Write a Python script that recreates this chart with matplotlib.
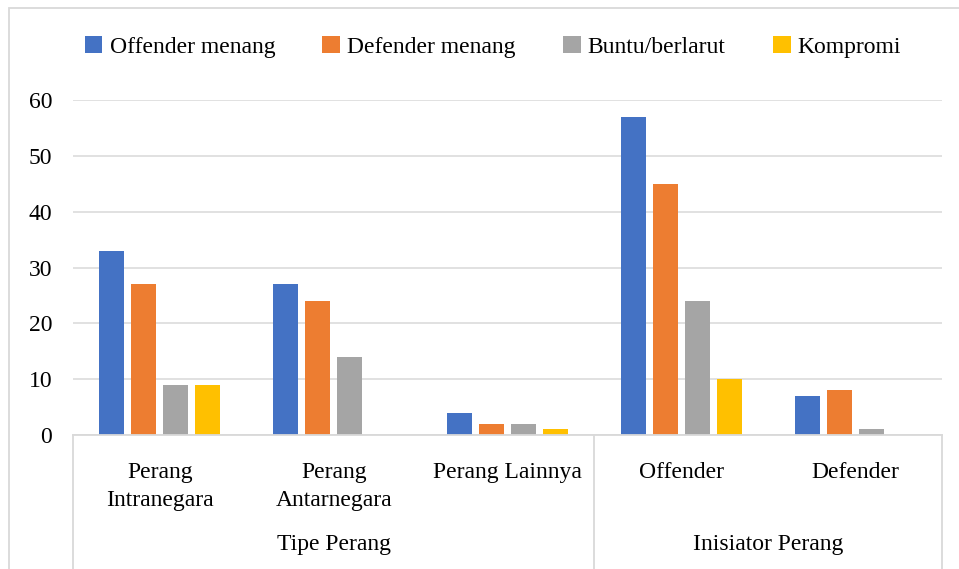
import matplotlib.pyplot as plt
import numpy as np
from matplotlib.patches import Rectangle

categories = ['Perang\nIntranegara', 'Perang\nAntarnegara', 'Perang Lainnya', 'Offender', 'Defender']
groups = ['Tipe Perang', 'Inisiator Perang']
group_spans = [(0, 2), (3, 4)]
series = ['Offender menang', 'Defender menang', 'Buntu/berlarut', 'Kompromi']
offender_menang = [33, 27, 4, 57, 7]
defender_menang = [27, 24, 2, 45, 8]
buntu = [9, 14, 2, 24, 1]
kompromi = [9, 0, 1, 10, 0]
colors = ['#4472C4', '#ED7D31', '#A5A5A5', '#FFC000']

plt.rcParams['font.family'] = ['Liberation Serif', 'DejaVu Serif']
grid_c = '#d9d9d9'
fs = 17

fig = plt.figure(figsize=(9.59, 5.69), dpi=100)
ax = fig.add_axes([73/959, 1-435/569, (942-73)/959, 335/569])

x = np.arange(len(categories))
w = 0.144
step = 0.184
values = [offender_menang, defender_menang, buntu, kompromi]
for i, (vals, c, lab) in enumerate(zip(values, colors, series)):
    ax.bar(x + (i-1.5)*step, vals, w, color=c, label=lab, zorder=3)

ax.set_xlim(-0.5, len(categories)-0.5)
ax.set_ylim(0, 60)
ax.set_yticks(range(0, 61, 10))
ax.yaxis.grid(True, color=grid_c, lw=1.1, zorder=0)
ax.set_xticks([])
ax.tick_params(axis='y', length=0, pad=15, labelsize=fs)
for s in ax.spines.values():
    s.set_visible(False)

# multi-level category axis
tr = ax.get_xaxis_transform()
ax.plot([-0.5, 4.5], [0, 0], color=grid_c, lw=1.3, transform=tr, clip_on=False, zorder=4)
for xv in [-0.5, 2.5, 4.5]:
    ax.plot([xv, xv], [0, -0.4], color=grid_c, lw=1.3, transform=tr, clip_on=False)
for xi, cat in zip(x, categories):
    ax.text(xi, -0.08, cat, transform=tr, ha='center', va='top', fontsize=fs,
            linespacing=1.45)
for g, (a, b) in zip(groups, group_spans):
    ax.text((a+b)/2, -0.328, g, transform=tr, ha='center', va='center', fontsize=fs)

fig.legend(loc='center', bbox_to_anchor=(0.514, 1-47/569), ncol=4, frameon=False,
           fontsize=fs, handlelength=0.75, handleheight=0.75, handletextpad=0.3,
           columnspacing=2.0)

fig.patches.append(Rectangle((9/959, -0.1), 1.2, 1-8/569+0.1, transform=fig.transFigure,
                             fill=False, edgecolor=grid_c, lw=1.3))

fig.savefig('out.png', dpi=100)
